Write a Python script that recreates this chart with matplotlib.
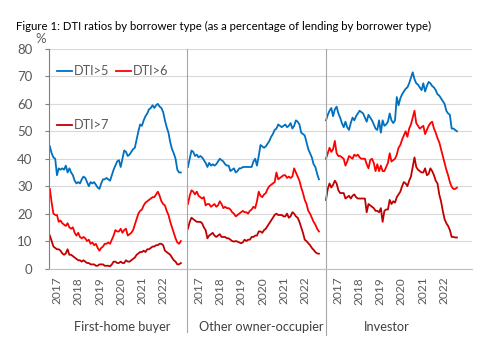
import numpy as np
import matplotlib
matplotlib.use("Agg")
import matplotlib.pyplot as plt
import matplotlib.transforms as mtransforms

plt.rcParams['font.family'] = ['Lato', 'DejaVu Sans']

# monthly values, Jan 2017 onwards, one list per borrower type and DTI band
fhb_5 = [44.5, 42, 40.5, 40, 34, 36.5, 36, 36.5, 36, 37.5, 35, 36.5, 35, 34, 32, 31, 31.5, 31, 32.5, 33.5,
         33, 31.5, 30, 31.5, 31, 31.5, 30.5, 29.5, 29, 31, 32.5, 32.5, 33, 32.5, 32, 34, 36, 37.5, 39, 39.5,
         37, 40, 43, 42.5, 41, 41.5, 42.5, 43.5, 44, 47, 50, 52.5, 52, 54, 55.5, 56.5, 58, 58.5, 59.5, 58.5,
         59.5, 60, 59, 58.5, 57, 54, 51.5, 49.5, 46, 43.5, 42, 40, 36, 35, 35]
fhb_6 = [29, 24, 20, 19.5, 19.5, 17, 17.5, 16.5, 16, 15.5, 16.5, 15, 14.5, 15, 13, 12, 13, 11.5, 11, 11.5,
         11, 10, 10.5, 9, 9.5, 8.5, 9, 7.5, 6.5, 7.5, 8, 9, 9, 9.5, 9, 10.5, 12, 14, 13.5, 13.5,
         14.5, 13, 14, 14.5, 12, 12.5, 13, 14, 16, 18, 20, 21, 21.5, 23, 24, 24.5, 25, 25.5, 26, 26,
         27, 28, 26.5, 24.5, 23.5, 23, 21, 19.5, 17, 15, 13, 11, 9.5, 9, 10]
fhb_7 = [12, 10, 8, 7.5, 7, 7, 6.5, 5.5, 5, 5.5, 7, 5, 5, 4.5, 4, 3.5, 3, 3, 2.5, 3,
         2.5, 2, 2, 1.5, 1.5, 1.5, 1, 1, 1.5, 1.5, 1.5, 1, 1, 1, 0.8, 1.5, 2.5, 2.5, 2, 2,
         2.5, 2, 2, 3, 2.5, 2.5, 3, 3.5, 4, 5, 5.5, 6, 6, 6.5, 6, 7, 7, 7.5, 8, 8,
         8.5, 8.5, 9, 9, 8.5, 6.5, 6, 5.5, 5, 4, 3, 2.5, 1.5, 1.5, 2]

ooc_5 = [37, 40, 43, 42.5, 41, 41.5, 40.5, 41, 40.5, 39.5, 38.5, 37, 38.5, 37.5, 38, 37.5, 38, 39, 40, 39.5,
         39, 38, 37.5, 37.5, 35.5, 36, 36.5, 35, 35.5, 36.5, 36.5, 37, 37, 37, 37, 37, 37, 39, 40, 37.5,
         41, 45, 44.5, 44, 44.5, 45.5, 46.5, 48, 49, 50.5, 51, 52.5, 52, 51.5, 52, 52.5, 51.5, 52, 53, 51,
         52, 54, 53.5, 52.5, 49.5, 49, 48.5, 46, 43.5, 42, 40.5, 38, 37, 34.5, 32.5]
ooc_6 = [23.5, 26.5, 28.5, 28, 27, 28, 26.5, 26, 25.5, 26, 23, 23.5, 23.5, 22.5, 23, 23.5, 22.5, 23, 24.5, 23.5,
         22, 22.5, 22, 22, 21.5, 20.5, 20, 19, 19.5, 20, 20.5, 21, 20.5, 20.5, 20, 21, 21.5, 22.5, 22, 24.5,
         28, 26.5, 26, 27, 27.5, 29, 30, 30.5, 31, 31.5, 35, 32.5, 33, 33.5, 34, 34, 33, 33.5, 33, 33.5,
         36.5, 35, 33.5, 32, 29.5, 27.5, 25, 23.5, 21, 20, 18.5, 17, 16, 14.5, 13.5]
ooc_7 = [14.5, 17, 18.5, 18, 17.5, 17, 17, 17, 16.5, 15, 14, 11, 12, 12.5, 13, 12, 11.5, 12, 12.5, 11.5,
         11.5, 11.5, 11, 11, 10.5, 10, 9.8, 10, 9.8, 9.5, 9.2, 9.5, 10.5, 10, 10.5, 10.5, 11.5, 11.5, 12, 12,
         13.5, 13.5, 13, 14, 14.5, 15.5, 16.5, 17.5, 18.5, 19.5, 20, 19.5, 19.5, 19.5, 19, 19, 20, 18.5, 19, 20.5,
         20, 19, 18.5, 17, 15, 13, 10.5, 10, 9.2, 8.5, 7.5, 6.8, 6, 5.5, 5.4]

inv_5 = [54, 56, 57.5, 58.5, 55.5, 58, 59, 56.5, 55, 53, 51.5, 53.5, 51.5, 50.5, 53, 55, 54, 55.5, 56.5, 57.5,
         57, 56.5, 55, 53.5, 56, 55, 54, 52.5, 51, 50.5, 54, 49.5, 54, 52, 52.5, 53.5, 56.5, 54, 53, 54,
         62.5, 59.5, 62, 63.5, 64.5, 65.5, 66, 67.5, 69.5, 71.5, 69, 67.5, 67, 66, 65, 67.5, 64.5, 66.5, 68, 67.5,
         66.5, 66, 65, 63.5, 63, 62, 61, 60, 57.5, 56.5, 56, 51, 51, 50.5, 50]
inv_6 = [40, 42, 44, 42.5, 43.5, 46.5, 42, 41, 41, 40.5, 40, 37.5, 39, 41, 40.5, 40, 41.5, 41, 41.5, 40.5,
         40, 40, 40, 38, 36.5, 39.5, 40, 38.5, 35.5, 38, 35.5, 37.5, 35.5, 35.5, 37, 38.5, 42, 39, 39.5, 40,
         41.5, 44, 45, 47, 48.5, 50, 48, 51, 52.5, 55, 57.5, 53, 52, 51, 51.5, 52, 49, 50.5, 52, 53,
         53.5, 51, 49.5, 47.5, 46, 43.5, 41, 38.5, 36, 34, 31.5, 29.8, 29, 29, 29.5]
inv_7 = [25, 29, 31, 29.5, 30.5, 32, 31, 28.5, 27.5, 27.5, 27.5, 25.5, 26, 26.5, 25.5, 26.5, 27, 26, 25.5, 25.5,
         25.5, 25.5, 25.5, 20.5, 23.5, 23, 22.5, 22, 21, 21, 20.5, 22, 17, 21, 21.5, 21.5, 25, 23.5, 24.5, 24,
         26, 27, 28, 30, 31.5, 31, 30, 32, 33.5, 37, 40.5, 37, 36, 35.5, 35, 35, 36.5, 34, 34.5, 36.5,
         35.5, 34, 32, 31, 27, 24.5, 21, 18, 16.5, 15.5, 14, 11.5, 11.5, 11.3, 11.3]

groups = ["First-home buyer", "Other owner-occupier", "Investor"]
years = ["2017", "2018", "2019", "2020", "2021", "2022"]
series_names = ["DTI>5", "DTI>6", "DTI>7"]
colors = ["#0070C0", "#FF0000", "#C00000"]

data = [[fhb_5, fhb_6, fhb_7], [ooc_5, ooc_6, ooc_7], [inv_5, inv_6, inv_7]]

W, H = 479, 353
fig = plt.figure(figsize=(W / 100, H / 100), dpi=100)
ax = fig.add_axes([49 / W, (H - 268.5) / H, (472 - 49) / W, 219.5 / H])

offsets = [0, 78, 156]
label_shift = [4, 6.2, 6.5]
handles = {}
xticks, xlabels = [], []
for g, off in enumerate(offsets):
    for k, vals in enumerate(data[g]):
        x = off + np.arange(len(vals))
        ln, = ax.plot(x, vals, color=colors[k], lw=1.3, solid_joinstyle='round')
        handles[series_names[k]] = ln
    for j, yr in enumerate(years):
        xticks.append(off + label_shift[g] + 12 * j)
        xlabels.append(yr)

ax.set_xlim(-0.5, 238.5)
ax.set_ylim(0, 80)
ax.set_yticks(range(0, 81, 10))
ax.set_xticks(xticks)
ax.set_xticklabels(xlabels, rotation=90, color="#595959", fontsize=8.6)
ax.tick_params(axis='x', length=0, pad=6)
ax.tick_params(axis='y', length=3, color="#808080", labelcolor="#595959", labelsize=9.5, pad=9)
ax.grid(axis='y', color="#D9D9D9", lw=0.8)
ax.set_axisbelow(True)
for s in ['top', 'right']:
    ax.spines[s].set_visible(False)
ax.spines['left'].set_color("#808080")
ax.spines['bottom'].set_color("#BFBFBF")

# group separators running down through the labels
trans = mtransforms.blended_transform_factory(ax.transData, ax.transAxes)
for xs, yb in [(77.6, -0.29), (155.8, -0.305)]:
    ax.plot([xs, xs], [1.0, yb], color="#A6A6A6", lw=0.8, transform=trans, clip_on=False)

for name, xp in zip(groups, [121.7, 261.7, 386.7]):
    fig.text(xp / W, 1 - 327 / H, name, ha='center', va='center', fontsize=9.2, color="#404040")

fig.text(16 / W, 1 - 26 / H,
         "Figure 1: DTI ratios by borrower type (as a percentage of lending by borrower type)",
         ha='left', va='center', fontsize=8.2, color="#000000")
fig.text(41 / W, 1 - 39 / H, "%", ha='center', va='center', fontsize=9.5, color="#595959")

order = ["DTI>5", "DTI>7", "DTI>6"]
ax.legend([handles[n] for n in order], order, ncol=2, frameon=False, loc='upper left',
          bbox_to_anchor=(57 / W, 1 - 65 / H), bbox_transform=fig.transFigure,
          fontsize=9.2, labelcolor="#595959", handlelength=1.2, handletextpad=0.15,
          columnspacing=0.5, labelspacing=3.3, borderpad=0, borderaxespad=0)

fig.savefig("out.png", dpi=100)
